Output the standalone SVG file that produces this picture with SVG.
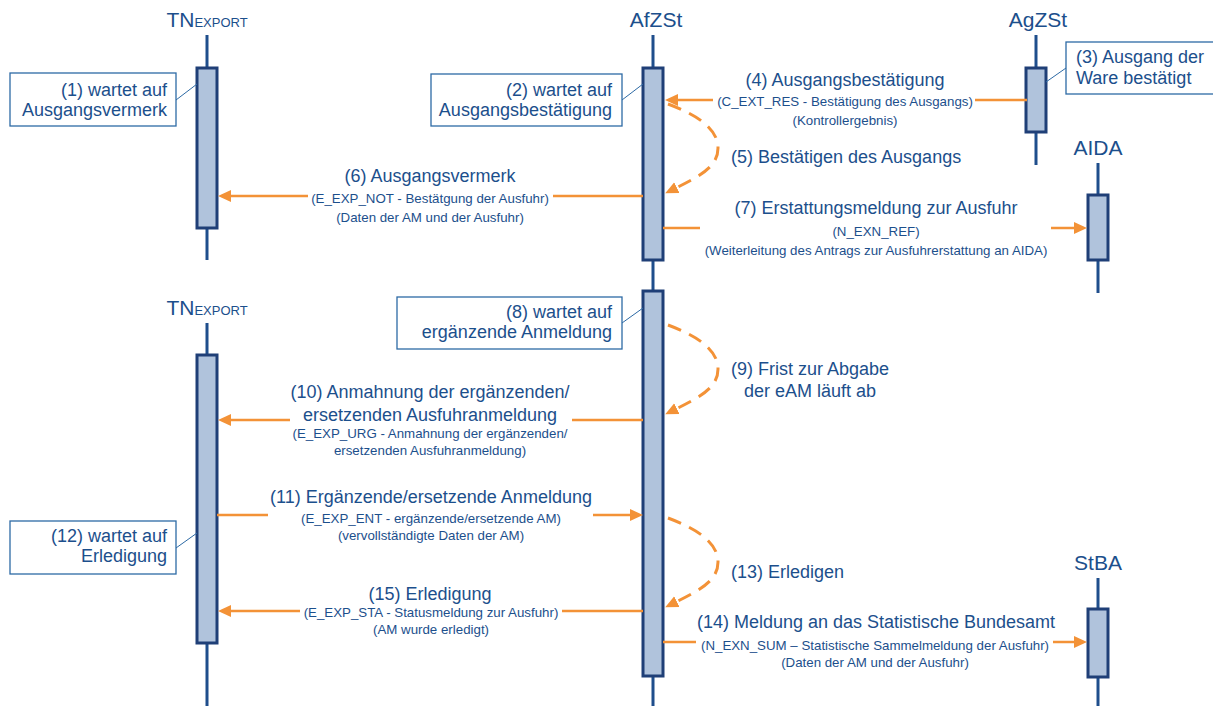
<svg xmlns="http://www.w3.org/2000/svg" width="1213" height="706" viewBox="0 0 1213 706">
<defs>
<marker id="ah" markerUnits="userSpaceOnUse" markerWidth="14" markerHeight="14" viewBox="0 0 14 14" refX="1" refY="7" orient="auto"><path d="M0,1 L13,7 L0,13 z" fill="#F39237"/></marker>
</defs>
<style>
.t{font-family:"Liberation Sans",Arial,sans-serif;fill:#1C4F8C}
.l{font-size:18px}
.s{font-size:13.3px}
.h{font-size:21px}
.m{text-anchor:middle}
.e{text-anchor:end}
.life{stroke:#1F4E8C;stroke-width:3}
.bar{fill:#B0C3DC;stroke:#1F3F77;stroke-width:3}
.box{fill:#fff;stroke:#2D6AA5;stroke-width:1.3}
.lk{stroke:#2D6AA5;stroke-width:1}
.msg{stroke:#F39237;stroke-width:2.5;fill:none}
.self{stroke:#F39237;stroke-width:3;fill:none;stroke-dasharray:14 9}
</style>
<rect width="1213" height="706" fill="#fff"/>

<g id="tn1">
<text class="t m" x="207" y="27"><tspan font-size="21">TN</tspan><tspan font-size="13">EXPORT</tspan></text>
<line class="life" x1="207" y1="35" x2="207" y2="260"/>
<rect class="bar" x="197" y="68" width="20" height="160"/>
</g>
<g id="afzst">
<text class="t h m" x="656" y="27">AfZSt</text>
<line class="life" x1="653" y1="35" x2="653" y2="706"/>
<rect class="bar" x="643" y="68" width="20" height="192"/>
<rect class="bar" x="643" y="291" width="20" height="385"/>
</g>
<g id="agzst">
<text class="t h m" x="1038" y="27">AgZSt</text>
<line class="life" x1="1036" y1="35" x2="1036" y2="165"/>
<rect class="bar" x="1026" y="68" width="20" height="64"/>
</g>
<g id="aida">
<text class="t h m" x="1098" y="155">AIDA</text>
<line class="life" x1="1098" y1="163" x2="1098" y2="293"/>
<rect class="bar" x="1088" y="195" width="20" height="65"/>
</g>
<g id="tn2">
<text class="t m" x="207" y="315"><tspan font-size="21">TN</tspan><tspan font-size="13">EXPORT</tspan></text>
<line class="life" x1="207" y1="323" x2="207" y2="706"/>
<rect class="bar" x="197" y="355" width="20" height="288"/>
</g>
<g id="stba">
<text class="t h m" x="1098" y="570">StBA</text>
<line class="life" x1="1098" y1="578" x2="1098" y2="706"/>
<rect class="bar" x="1088" y="609" width="20" height="68"/>
</g>

<g id="note1">
<rect class="box" x="10" y="73" width="166" height="53"/>
<line class="lk" x1="176" y1="100" x2="197" y2="84"/>
<text class="t l e" x="167" y="96">(1) wartet auf</text>
<text class="t l e" x="167" y="116">Ausgangsvermerk</text>
</g>
<g id="note2">
<rect class="box" x="431" y="74" width="191" height="52"/>
<line class="lk" x1="622" y1="100" x2="643" y2="84"/>
<text class="t l e" x="612" y="96">(2) wartet auf</text>
<text class="t l e" x="612" y="116">Ausgangsbestätigung</text>
</g>
<g id="note3">
<rect class="box" x="1066" y="42" width="160" height="52"/>
<line class="lk" x1="1066" y1="68" x2="1046" y2="82"/>
<text class="t l" x="1076" y="63">(3) Ausgang der</text>
<text class="t l" x="1076" y="84">Ware bestätigt</text>
</g>
<g id="note8">
<rect class="box" x="397" y="297" width="225" height="52"/>
<line class="lk" x1="622" y1="323" x2="643" y2="308"/>
<text class="t l e" x="612" y="318">(8) wartet auf</text>
<text class="t l e" x="612" y="338">ergänzende Anmeldung</text>
</g>
<g id="note12">
<rect class="box" x="10" y="521" width="166" height="53"/>
<line class="lk" x1="176" y1="548" x2="197" y2="533"/>
<text class="t l e" x="167" y="542">(12) wartet auf</text>
<text class="t l e" x="167" y="562">Erledigung</text>
</g>

<g id="connectors">
<line class="msg" x1="1027" y1="100" x2="975" y2="100"/>
<line class="msg" x1="713" y1="100" x2="677" y2="100" marker-end="url(#ah)"/>
<path class="self" d="M668,104 C700,116 718,130 718,148 C718,166 702,175 676,188" marker-end="url(#ah)"/>
<line class="msg" x1="643" y1="196" x2="553" y2="196"/>
<line class="msg" x1="308" y1="196" x2="230" y2="196" marker-end="url(#ah)"/>
<line class="msg" x1="663" y1="228" x2="700" y2="228"/>
<line class="msg" x1="1051" y1="228" x2="1075" y2="228" marker-end="url(#ah)"/>
<path class="self" d="M668,325 C700,337 718,351 718,369 C718,387 702,396 676,409" marker-end="url(#ah)"/>
<line class="msg" x1="643" y1="420" x2="572" y2="420"/>
<line class="msg" x1="290" y1="420" x2="230" y2="420" marker-end="url(#ah)"/>
<line class="msg" x1="217" y1="515" x2="268" y2="515"/>
<line class="msg" x1="593" y1="515" x2="631" y2="515" marker-end="url(#ah)"/>
<path class="self" d="M668,518 C700,530 718,544 718,562 C718,580 702,589 676,602" marker-end="url(#ah)"/>
<line class="msg" x1="643" y1="611" x2="562" y2="611"/>
<line class="msg" x1="300" y1="611" x2="230" y2="611" marker-end="url(#ah)"/>
<line class="msg" x1="663" y1="642" x2="696" y2="642"/>
<line class="msg" x1="1053" y1="642" x2="1075" y2="642" marker-end="url(#ah)"/>
</g>

<g id="labels">
<text class="t l m" x="845" y="86">(4) Ausgangsbestätigung</text>
<text class="t s m" x="845" y="106">(C_EXT_RES - Bestätigung des Ausgangs)</text>
<text class="t s m" x="845" y="125">(Kontrollergebnis)</text>
<text class="t l" x="731" y="163">(5) Bestätigen des Ausgangs</text>
<text class="t l m" x="430" y="182">(6) Ausgangsvermerk</text>
<text class="t s m" x="430" y="203">(E_EXP_NOT - Bestätgung der Ausfuhr)</text>
<text class="t s m" x="430" y="222">(Daten der AM und der Ausfuhr)</text>
<text class="t l m" x="876" y="214">(7) Erstattungsmeldung zur Ausfuhr</text>
<text class="t s m" x="876" y="236">(N_EXN_REF)</text>
<text class="t s m" x="876" y="255">(Weiterleitung des Antrags zur Ausfuhrerstattung an AIDA)</text>
<text class="t l m" x="810" y="375">(9) Frist zur Abgabe</text>
<text class="t l m" x="810" y="397">der eAM läuft ab</text>
<text class="t l m" x="430" y="398">(10) Anmahnung der ergänzenden/</text>
<text class="t l m" x="430" y="421">ersetzenden Ausfuhranmeldung</text>
<text class="t s m" x="430" y="438">(E_EXP_URG - Anmahnung der ergänzenden/</text>
<text class="t s m" x="430" y="455">ersetzenden Ausfuhranmeldung)</text>
<text class="t l m" x="431" y="503">(11) Ergänzende/ersetzende Anmeldung</text>
<text class="t s m" x="431" y="523">(E_EXP_ENT - ergänzende/ersetzende AM)</text>
<text class="t s m" x="431" y="540">(vervollständigte Daten der AM)</text>
<text class="t l" x="731" y="578">(13) Erledigen</text>
<text class="t l m" x="430" y="600">(15) Erledigung</text>
<text class="t s m" x="431" y="617">(E_EXP_STA - Statusmeldung zur Ausfuhr)</text>
<text class="t s m" x="431" y="634">(AM wurde erledigt)</text>
<text class="t l m" x="876" y="628">(14) Meldung an das Statistische Bundesamt</text>
<text class="t s m" x="875" y="650">(N_EXN_SUM – Statistische Sammelmeldung der Ausfuhr)</text>
<text class="t s m" x="875" y="667">(Daten der AM und der Ausfuhr)</text>
</g>
</svg>
